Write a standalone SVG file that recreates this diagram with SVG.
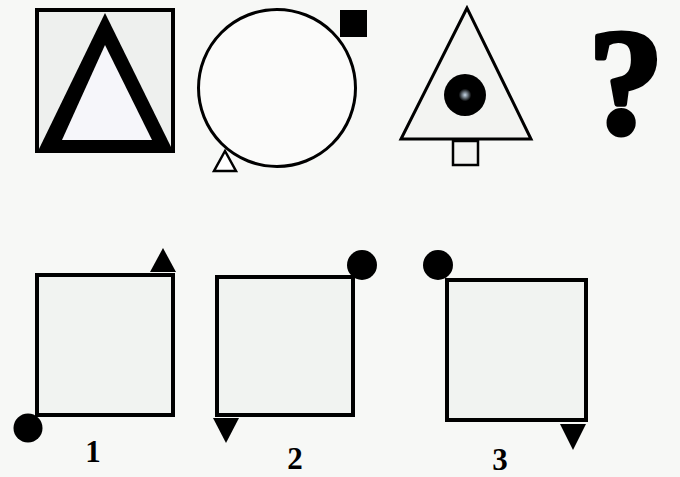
<svg xmlns="http://www.w3.org/2000/svg" width="680" height="477" viewBox="0 0 680 477">
<style>
.ln{fill:none;stroke:#000;stroke-width:4}
.thin{fill:none;stroke:#000;stroke-width:3}
.blk{fill:#000}
.lbl{font-family:"Liberation Serif","Times New Roman",serif;font-weight:bold;fill:#000;text-anchor:middle}
</style>
<defs>
<radialGradient id="dotg" cx="0.5" cy="0.5" r="0.5">
<stop offset="0" stop-color="#c8d8e8"/>
<stop offset="0.3" stop-color="#000"/>
<stop offset="1" stop-color="#000"/>
</radialGradient>
</defs>
<rect x="0" y="0" width="680" height="477" fill="#f7f8f6"/>
<g id="fig1">
<rect x="37" y="10" width="136" height="141" class="ln" style="fill:#eef0ee"/>
<polygon points="105,13 38,151 173,151" class="blk"/>
<polygon points="105,45 62,140 152,140" fill="#f6f6fa"/>
</g>
<g id="fig2">
<circle cx="277" cy="88" r="78.5" class="thin" style="fill:#fbfbfa"/>
<rect x="340" y="10" width="27" height="27" class="blk"/>
<polygon points="225,151 214,171 236,171" fill="#fff" stroke="#000" stroke-width="2.5"/>
</g>
<g id="fig3">
<polygon points="467,8 401,139 531,139" fill="#f3f4f2" stroke="#000" stroke-width="3"/>
<rect x="453" y="141" width="25" height="24" fill="#f3f4f2" stroke="#000" stroke-width="2.5"/>
<circle cx="465" cy="95" r="21" fill="url(#dotg)"/>
</g>
<g id="question">
<text x="626" y="133" class="lbl" font-size="150" stroke="#000" stroke-width="5" stroke-linejoin="round">?</text>
</g>
<g id="opt1">
<rect x="37" y="275" width="136" height="140" class="ln" style="fill:#f1f3f1"/>
<polygon points="163,248 150,272 176,272" class="blk"/>
<circle cx="28" cy="428" r="14.5" class="blk"/>
<text x="93" y="462" class="lbl" font-size="31">1</text>
</g>
<g id="opt2">
<rect x="217" y="277" width="136" height="138" class="ln" style="fill:#f1f3f1"/>
<circle cx="362" cy="265" r="15" class="blk"/>
<polygon points="213,418 239,418 226,443" class="blk"/>
<text x="295" y="469" class="lbl" font-size="31">2</text>
</g>
<g id="opt3">
<rect x="447" y="280" width="139" height="140" class="ln" style="fill:#f1f3f1"/>
<circle cx="438" cy="265" r="15" class="blk"/>
<polygon points="560,424 586,424 573,450" class="blk"/>
<text x="500" y="470" class="lbl" font-size="31">3</text>
</g>
</svg>
